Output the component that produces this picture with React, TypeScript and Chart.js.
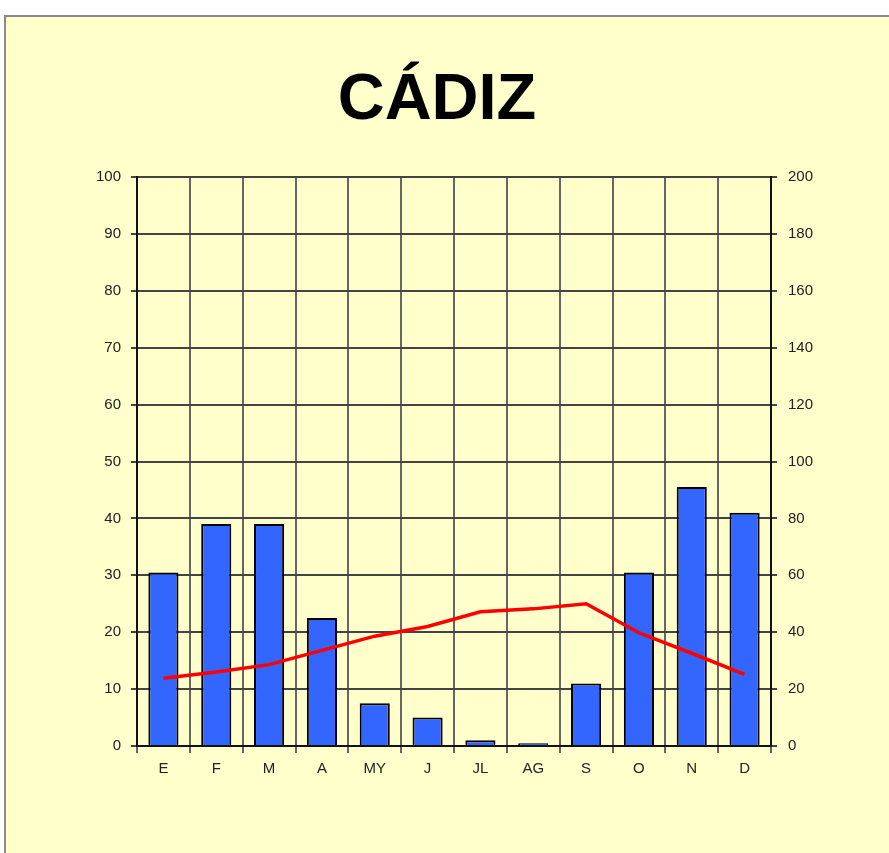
import React, { useEffect, useRef } from 'react';
import { Chart, registerables } from 'chart.js';

Chart.register(...registerables);

const TITLE = 'CÁDIZ';
const months = ['E', 'F', 'M', 'A', 'MY', 'J', 'JL', 'AG', 'S', 'O', 'N', 'D'];
// precipitation (mm) on right axis
const precipitation = [61, 78, 78, 45, 15, 10, 2, 1, 22, 61, 91, 82];
// temperature (ºC) on left axis
const temperature = [11.9, 13.0, 14.3, 16.8, 19.3, 21.0, 23.6, 24.1, 25.0, 19.9, 16.3, 12.6];
const leftMin = 0;
const leftMax = 100;
const leftStep = 10;
const rightMin = 0;
const rightMax = 200;
const rightStep = 20;

const FONT = 'Liberation Sans, Arial, sans-serif';

export default function App() {
  const ref = useRef<HTMLCanvasElement | null>(null);

  useEffect(() => {
    if (!ref.current) return;
    const tickFont = { family: FONT, size: 15 };
    const chart = new Chart(ref.current, {
      type: 'bar',
      data: {
        labels: months,
        datasets: [
          {
            type: 'line',
            label: 'Temperatura',
            data: temperature,
            yAxisID: 'y',
            borderColor: '#FF0000',
            borderWidth: 3.5,
            pointRadius: 0,
            tension: 0,
            fill: false,
            order: 0,
          } as any,
          {
            type: 'bar',
            label: 'Precipitación',
            data: precipitation,
            yAxisID: 'y1',
            backgroundColor: '#3366FF',
            borderColor: '#000000',
            borderWidth: 2,
            categoryPercentage: 1,
            barPercentage: 0.57,
            order: 1,
          },
        ],
      },
      options: {
        animation: false,
        responsive: false,
        maintainAspectRatio: false,
        layout: { padding: 0 },
        plugins: {
          legend: { display: false },
          tooltip: { enabled: false },
          title: {
            display: true,
            text: TITLE,
            color: '#000',
            font: { family: FONT, size: 65, weight: 'bold', lineHeight: 1.2 },
            padding: { top: 62, bottom: 37 },
          },
        },
        scales: {
          x: {
            offset: true,
            grid: { offset: true, color: '#666', lineWidth: 2, tickLength: 7, drawTicks: true },
            border: { color: '#111', width: 2 },
            ticks: { font: tickFont, color: '#222', padding: 7 },
            afterFit: (s: any) => {
              s.height = 107;
            },
          },
          y: {
            position: 'left',
            min: leftMin,
            max: leftMax,
            ticks: { stepSize: leftStep, font: tickFont, color: '#222', padding: 10 },
            grid: { color: '#444', lineWidth: 2, tickLength: 6 },
            border: { color: '#111', width: 2 },
            afterFit: (s: any) => {
              s.width = 137;
            },
          },
          y1: {
            position: 'right',
            min: rightMin,
            max: rightMax,
            ticks: { stepSize: rightStep, font: tickFont, color: '#222', padding: 11 },
            grid: { drawOnChartArea: false, color: '#444', lineWidth: 2, tickLength: 6 },
            border: { color: '#111', width: 2 },
            afterFit: (s: any) => {
              s.width = 103;
            },
          },
        },
      } as any,
    });
    return () => chart.destroy();
  }, []);

  return (
    <div style={{ position: 'absolute', left: 0, top: 0, width: 889, height: 853, background: '#fff', overflow: 'hidden' }}>
      <div
        style={{
          position: 'absolute',
          left: 4,
          top: 15,
          width: 900,
          height: 900,
          background: '#FFFFCC',
          borderTop: '2px solid #8a8a8a',
          borderLeft: '2px solid #8a8a8a',
        }}
      />
      <canvas ref={ref} width={874} height={853} style={{ position: 'absolute', left: 0, top: 0, width: 874, height: 853 }} />
    </div>
  );
}
